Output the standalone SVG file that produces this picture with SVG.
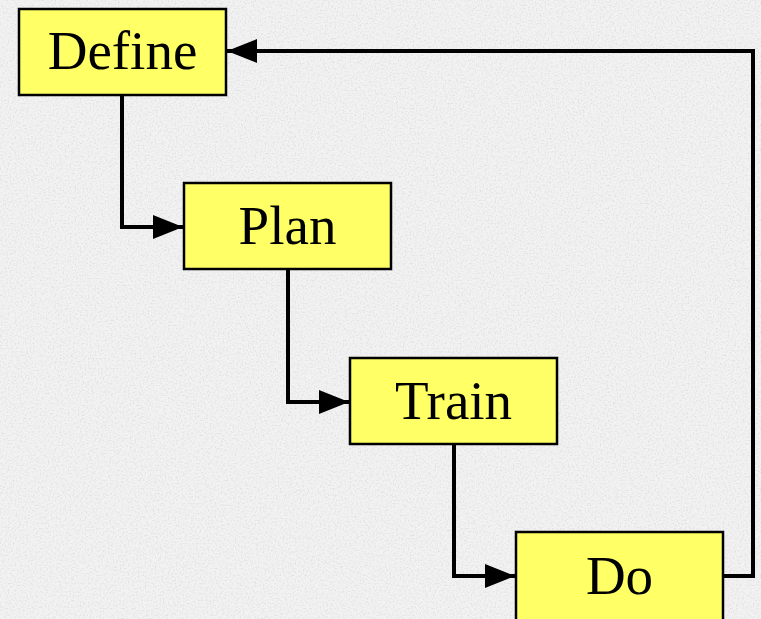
<svg xmlns="http://www.w3.org/2000/svg" width="761" height="619" viewBox="0 0 761 619">
  <style>
    .box { fill: #FFFF66; stroke: #000; stroke-width: 2.5; }
    .lbl { font-family: "Liberation Serif", "Times New Roman", serif; font-size: 55px; fill: #000; text-anchor: middle; }
    .wire { fill: none; stroke: #000; stroke-width: 4; stroke-linejoin: miter; }
  </style>
  <defs>
    <marker id="arr" viewBox="0 0 30 24" refX="30" refY="12" markerWidth="30" markerHeight="24" markerUnits="userSpaceOnUse" orient="auto">
      <path d="M0,0 L30,12 L0,24 Z" fill="#000"/>
    </marker>
    <filter id="grain" x="0" y="0" width="100%" height="100%">
      <feTurbulence type="fractalNoise" baseFrequency="0.6" numOctaves="2" seed="7" result="n"/>
      <feColorMatrix type="matrix" values="0 0 0 0 0.6  0 0 0 0 0.6  0 0 0 0 0.6  0 0 0 -2.4 1.3"/>
    </filter>
  </defs>
  <rect x="0" y="0" width="761" height="619" fill="#f2f2f2"/>
  <rect x="0" y="0" width="761" height="619" filter="url(#grain)" opacity="0.5"/>

  <g id="connectors">
    <path class="wire" d="M122,95 V227 H183" marker-end="url(#arr)"/>
    <path class="wire" d="M288,269 V402 H349" marker-end="url(#arr)"/>
    <path class="wire" d="M454,444 V576 H515" marker-end="url(#arr)"/>
    <path class="wire" d="M723,576 H753 V51 H227" marker-end="url(#arr)"/>
  </g>

  <g id="define">
    <rect class="box" x="19" y="9" width="207" height="86"/>
    <text class="lbl" x="122.5" y="69">Define</text>
  </g>
  <g id="plan">
    <rect class="box" x="184" y="183" width="207" height="86"/>
    <text class="lbl" x="287.5" y="244">Plan</text>
  </g>
  <g id="train">
    <rect class="box" x="350" y="358" width="207" height="86"/>
    <text class="lbl" x="453.5" y="419">Train</text>
  </g>
  <g id="do">
    <rect class="box" x="516" y="532" width="207" height="95"/>
    <text class="lbl" x="619.5" y="594">Do</text>
  </g>
</svg>
